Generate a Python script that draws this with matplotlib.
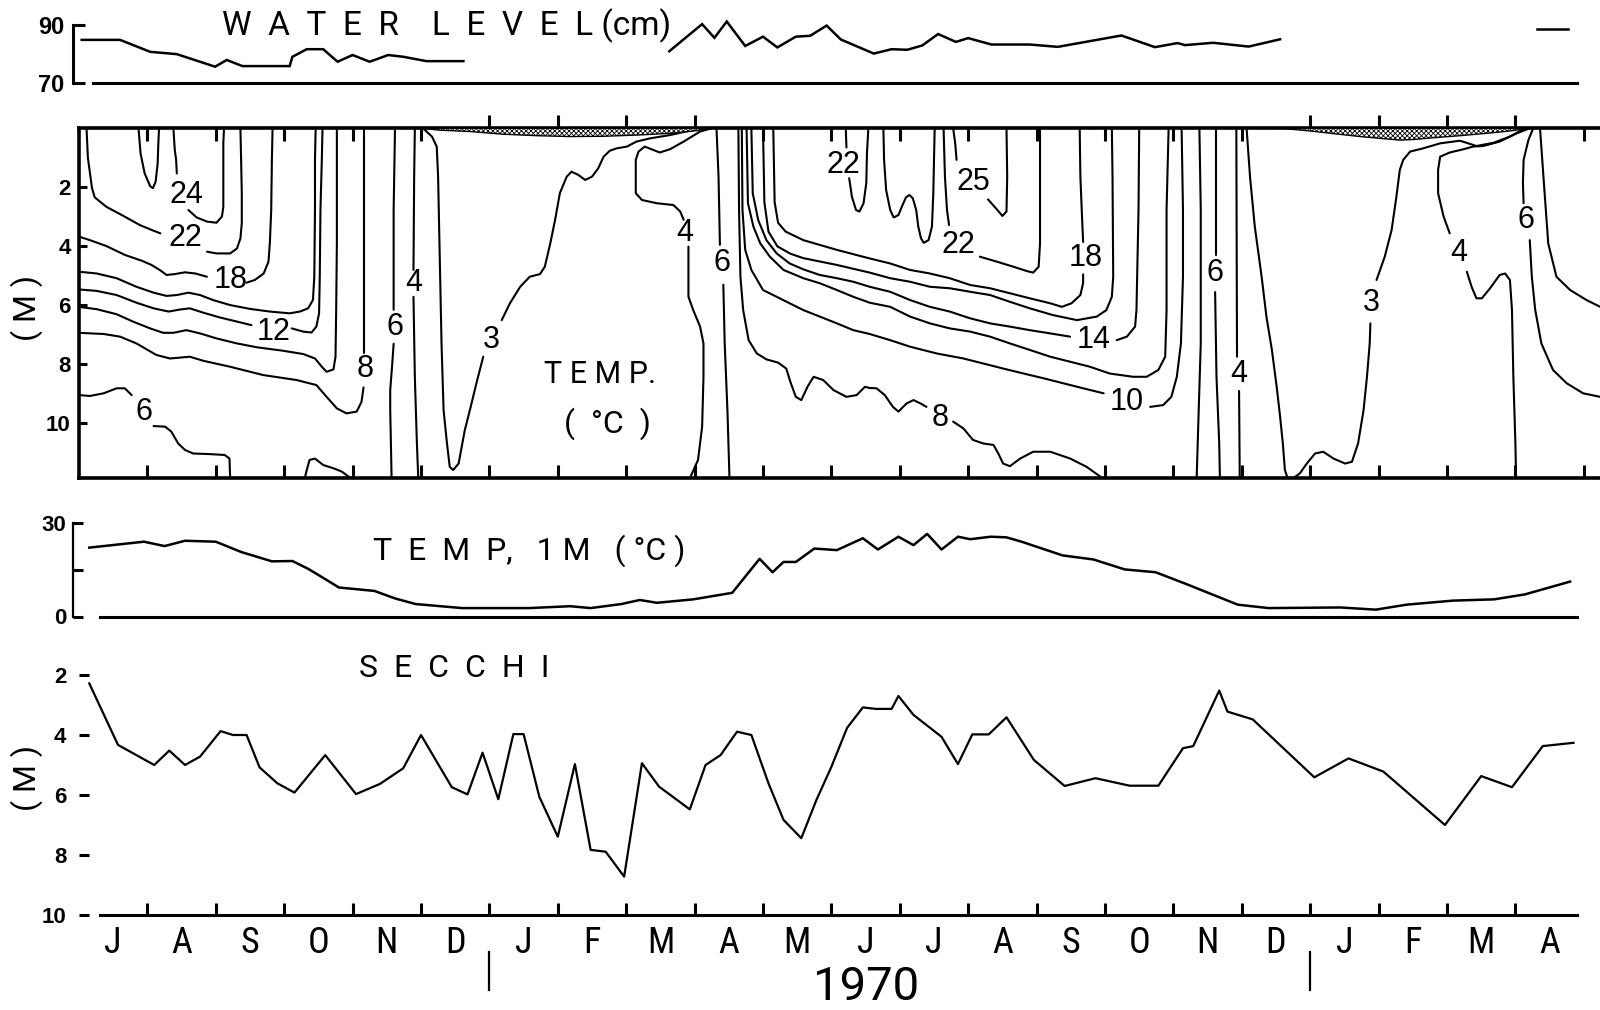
import matplotlib
matplotlib.use("Agg")
import matplotlib.pyplot as plt
from matplotlib import font_manager
from matplotlib.ticker import FixedLocator
from matplotlib.transforms import blended_transform_factory as blend

# ------------------------------------------------------------------
# Time axis: months counted from 1 July 1969
# ------------------------------------------------------------------
month_letters = ["J", "A", "S", "O", "N", "D", "J", "F", "M", "A", "M",
                 "J", "J", "A", "S", "O", "N", "D", "J", "F", "M", "A"]
year_text = "1970"
year_starts = [6, 18]                    # 1 Jan 1970, 1 Jan 1971
ice_months = [6, 7, 8, 9, 18, 19, 20, 21]

# Water level (cm)
wl_a_t = [0.04, 0.60, 1.04, 1.43, 1.99, 2.16, 2.39, 3.08, 3.12, 3.33, 3.57,
          3.78, 4.00, 4.25, 4.52, 4.74, 5.08, 5.62]
wl_a_v = [84.9, 84.9, 80.8, 80.0, 75.7, 78.0, 75.9, 75.9, 79.1, 81.7, 81.7,
          77.4, 79.7, 77.4, 79.7, 79.1, 77.6, 77.6]
wl_b_t = [8.63, 9.11, 9.29, 9.47, 9.74, 10.00, 10.21, 10.48, 10.69, 10.93,
          11.14, 11.62, 11.88, 12.11, 12.33, 12.56, 12.82, 13.00, 13.34, 13.90,
          14.31, 15.24, 15.73, 16.06, 16.17, 16.58, 17.10, 17.56]
wl_b_v = [81.0, 90.3, 85.6, 91.2, 82.8, 86.0, 82.3, 86.0, 86.3, 89.8,
          85.0, 80.2, 81.7, 81.5, 83.0, 86.9, 84.2, 85.5, 83.3, 83.3,
          82.5, 86.4, 82.4, 83.8, 83.1, 83.9, 82.6, 85.1]
wl_c_t = [21.31, 21.77]
wl_c_v = [88.7, 88.7]

# Temperature at 1 m (deg C)
temp_t = [0.15, 0.95, 1.25, 1.55, 2.00, 2.37, 2.82, 3.12, 3.35, 3.57, 3.80,
          4.32, 4.62, 4.92, 5.60, 6.58, 7.18, 7.48, 7.93, 8.20, 8.45, 8.98,
          9.55, 9.95, 10.14, 10.30, 10.48, 10.75, 11.08, 11.46, 11.68, 11.98,
          12.20, 12.40, 12.61, 12.85, 13.03, 13.33, 13.56, 13.78, 14.38, 14.83,
          15.29, 15.74, 16.19, 16.94, 17.39, 18.44, 18.96, 19.41, 20.09, 20.69,
          21.14, 21.80]
temp_v = [22.1, 24.0, 22.6, 24.3, 24.0, 20.7, 17.7, 17.8, 15.3, 12.4, 9.3,
          8.2, 5.8, 4.0, 2.7, 2.7, 3.3, 2.7, 4.0, 5.3, 4.4, 5.5,
          7.6, 18.5, 14.2, 17.5, 17.5, 21.8, 21.3, 25.1, 21.5, 25.6,
          22.9, 26.5, 21.5, 25.6, 24.8, 25.6, 25.4, 24.0, 19.6, 18.3,
          15.1, 14.2, 10.4, 3.8, 2.7, 2.9, 2.2, 3.8, 5.1, 5.5,
          7.1, 11.2]

# Secchi depth (m)
secchi_t = [0.15, 0.57, 1.10, 1.32, 1.55, 1.77, 2.07, 2.25, 2.45, 2.64,
            2.90, 3.15, 3.60, 4.05, 4.40, 4.74, 5.00, 5.45, 5.68, 5.90,
            6.13, 6.35, 6.50, 6.73, 7.00, 7.25, 7.48, 7.70, 7.97, 8.23,
            8.48, 8.93, 9.16, 9.38, 9.62, 9.83, 10.08, 10.30, 10.56, 10.78,
            11.00, 11.23, 11.46, 11.65, 11.88, 11.98, 12.20, 12.61, 12.85, 13.06,
            13.30, 13.56, 13.96, 14.41, 14.86, 15.36, 15.78, 16.14, 16.29, 16.67,
            16.79, 17.16, 18.06, 18.56, 19.07, 19.97, 20.50, 20.95, 21.40, 21.85]
secchi_d = [2.28, 4.33, 5.00, 4.52, 5.00, 4.72, 3.87, 4.00, 4.00, 5.08,
            5.61, 5.92, 4.67, 5.97, 5.63, 5.11, 4.00, 5.74, 5.98, 4.59,
            6.14, 3.97, 3.97, 6.06, 7.39, 4.97, 7.83, 7.89, 8.72, 4.94,
            5.72, 6.48, 5.00, 4.67, 3.89, 4.00, 5.61, 6.83, 7.44, 6.17,
            5.06, 3.76, 3.08, 3.13, 3.13, 2.70, 3.33, 4.06, 4.97, 3.98,
            3.98, 3.41, 4.83, 5.70, 5.44, 5.69, 5.69, 4.44, 4.37, 2.52,
            3.22, 3.48, 5.41, 4.78, 5.22, 7.00, 5.37, 5.74, 4.37, 4.26]

# Ice cover thickness (m)
ice1_t = [5.05, 5.25, 5.72, 6.20, 6.69, 7.18, 7.67, 8.15, 8.64, 9.03, 9.22]
ice1_h = [0.0, 0.06, 0.11, 0.20, 0.25, 0.28, 0.27, 0.23, 0.17, 0.08, 0.0]
ice2_t = [17.51, 17.66, 18.00, 18.34, 18.73, 19.12, 19.31, 19.51, 19.80,
          20.19, 20.58, 20.92, 21.21]
ice2_h = [0.0, 0.02, 0.09, 0.18, 0.28, 0.36, 0.40, 0.38, 0.32, 0.25, 0.17,
          0.09, 0.0]

# Isotherms as (month, depth m); None marks the break left for the label
iso24_pocket_1969 = [(0.87, 0), (0.90, 0.85), (0.96, 1.53), (1.04, 1.96), (1.08, 2.03),
                     (1.12, 1.81), (1.15, 1.19), (1.16, 0.51), (1.17, 0)]
iso24_1969 = [(1.38, 0), (1.40, 0.73), (1.42, 1.07), (1.43, 1.53), None,
              (1.60, 2.77), (1.72, 3.02), (1.87, 3.16), (2.01, 3.20), (2.09, 2.99),
              (2.11, 2.66), (2.11, 1.64), (2.11, 0.51), (2.12, 0)]
iso22_1969 = [(0.11, 0), (0.13, 1.0), (0.19, 2.03), (0.23, 2.34), (0.40, 2.66),
              (0.65, 2.97), (0.89, 3.28), (1.09, 3.47), (1.19, 3.56), None,
              (1.87, 4.18), (2.01, 4.24), (2.21, 4.24), (2.31, 4.07), (2.36, 3.73),
              (2.38, 3.22), (2.38, 2.20), (2.37, 1.07), (2.36, 0)]
iso18_1969 = [(0, 3.67), (0.16, 3.79), (0.40, 3.99), (0.67, 4.29), (0.92, 4.49),
              (1.06, 4.63), (1.18, 4.80), (1.28, 4.97), (1.40, 4.94), (1.55, 4.88),
              (1.70, 4.92), (1.87, 5.03), None,
              (2.45, 5.23), (2.57, 5.14), (2.70, 4.92), (2.77, 4.52), (2.79, 3.90),
              (2.81, 2.77), (2.82, 1.07), (2.83, 0)]
iso16_1969 = [(0, 4.86), (0.26, 4.92), (0.55, 5.08), (0.84, 5.37), (1.09, 5.57),
              (1.28, 5.68), (1.43, 5.65), (1.60, 5.57), (1.77, 5.65), (1.96, 5.82),
              (2.21, 5.99), (2.50, 6.12), (2.79, 6.21), (3.08, 6.27), (3.23, 6.21),
              (3.35, 6.10), (3.42, 5.82), (3.44, 5.03), (3.45, 2.77), (3.45, 1.07),
              (3.46, 0)]
iso12_1969 = [(0, 5.46), (0.26, 5.51), (0.55, 5.65), (0.84, 5.91), (1.09, 6.10),
              (1.31, 6.21), (1.48, 6.14), (1.62, 6.10), (1.82, 6.25), (2.06, 6.41),
              (2.31, 6.55), (2.52, 6.67), None,
              (3.11, 6.78), (3.28, 6.89), (3.40, 6.92), (3.47, 6.72), (3.51, 6.27),
              (3.52, 5.03), (3.53, 2.77), (3.55, 1.07), (3.56, 0)]
iso10_1969 = [(0, 6.05), (0.26, 6.13), (0.55, 6.30), (0.79, 6.55), (1.04, 6.78),
              (1.23, 6.93), (1.38, 6.93), (1.57, 6.84), (1.77, 6.95), (2.01, 7.12),
              (2.31, 7.29), (2.60, 7.42), (2.99, 7.54), (3.28, 7.65), (3.45, 7.80),
              (3.55, 8.08), (3.62, 8.25), (3.72, 8.17), (3.75, 7.74), (3.76, 6.16),
              (3.77, 3.90), (3.77, 1.64), (3.77, 0)]
iso8_1969 = [(0, 6.93), (0.36, 6.97), (0.60, 7.06), (0.84, 7.29), (1.13, 7.68),
             (1.33, 7.80), (1.62, 7.74), (1.82, 7.88), (2.21, 8.08), (2.69, 8.36),
             (3.18, 8.53), (3.47, 8.70), (3.62, 9.10), (3.77, 9.49), (3.91, 9.66),
             (4.06, 9.60), (4.13, 9.27), (4.16, 8.78), None,
             (4.16, 7.60), (4.16, 4.0), (4.16, 0)]
iso6_bottom_1969 = [(0, 9.04), (0.16, 9.07), (0.36, 8.98), (0.55, 8.81), (0.67, 8.81),
                    (0.77, 9.04), None,
                    (1.09, 10.09), (1.26, 10.11), (1.35, 10.28), (1.45, 10.68),
                    (1.55, 10.90), (1.67, 11.02), (1.91, 11.04), (2.13, 11.07),
                    (2.20, 11.19), (2.21, 11.86)]
iso6_bump_1969 = [(3.30, 11.86), (3.33, 11.58), (3.37, 11.24), (3.45, 11.19),
                  (3.57, 11.41), (3.72, 11.52), (3.84, 11.63), (3.94, 11.80),
                  (3.99, 11.86)]
iso6_autumn_1969 = [(4.62, 0), (4.60, 2.77), (4.60, 6.15), None,
                    (4.60, 7.30), (4.58, 7.97), (4.55, 8.87), (4.55, 9.55),
                    (4.56, 10.68), (4.57, 11.86)]
iso4_autumn_1969 = [(4.91, 0), (4.90, 1.64), (4.89, 4.80), None,
                    (4.89, 5.71), (4.91, 8.42), (4.94, 10.68), (4.96, 11.86)]
iso3_winter_1970 = [(5.03, 0), (5.16, 0.28), (5.23, 0.62), (5.25, 1.64), (5.27, 3.90),
                    (5.30, 7.29), (5.33, 9.55), (5.38, 10.68), (5.42, 11.47),
                    (5.47, 11.58), (5.55, 11.36), (5.64, 10.23), (5.72, 9.50),
                    (5.81, 8.64), (5.91, 7.74), None,
                    (6.18, 6.50), (6.30, 5.93), (6.45, 5.37), (6.59, 5.03),
                    (6.74, 4.94), (6.81, 4.69), (6.89, 3.90), (6.96, 3.11),
                    (7.03, 2.20), (7.13, 1.64), (7.20, 1.47), (7.30, 1.58),
                    (7.40, 1.75), (7.50, 1.64), (7.59, 1.36), (7.67, 0.96),
                    (7.76, 0.76), (7.86, 0.68), (8.01, 0.62), (8.15, 0.45),
                    (8.35, 0.34), (8.64, 0.23), (8.93, 0.08), (9.13, 0)]
iso4_spring_1970 = [(9.25, 0), (9.08, 0.11), (8.84, 0.45), (8.64, 0.71), (8.49, 0.82),
                    (8.37, 0.71), (8.27, 0.62), (8.18, 0.79), (8.14, 1.07),
                    (8.14, 2.20), (8.23, 2.43), (8.45, 2.54), (8.69, 2.60),
                    (8.79, 2.82), (8.84, 3.10), None,
                    (8.91, 4.01), (8.91, 5.71), (8.98, 6.16), (9.08, 6.72),
                    (9.13, 7.29), (9.13, 8.42), (9.11, 10.11), (9.05, 11.24),
                    (8.93, 11.86)]
iso6_spring_1970 = [(9.32, 0), (9.35, 1.64), (9.37, 3.95), None,
                    (9.42, 5.30), (9.44, 7.29), (9.48, 9.55), (9.51, 11.86)]
iso8_1970 = [(9.64, 0), (9.65, 2.77), (9.67, 5.03), (9.71, 6.16), (9.79, 7.18),
             (9.91, 7.63), (10.05, 7.83), (10.22, 7.94), (10.34, 8.14), (10.40, 8.59),
             (10.48, 9.10), (10.56, 9.21), (10.65, 8.76), (10.74, 8.42), (10.88, 8.53),
             (11.03, 8.87), (11.22, 9.10), (11.37, 9.04), (11.49, 8.76), (11.56, 8.80),
             (11.66, 8.81), (11.78, 9.04), (11.90, 9.44), (11.98, 9.60), (12.10, 9.32),
             (12.20, 9.21), (12.30, 9.32), (12.39, 9.44), None,
             (12.78, 9.94), (12.93, 10.17), (13.07, 10.56), (13.22, 10.68),
             (13.37, 10.73), (13.44, 11.02), (13.51, 11.36), (13.61, 11.45),
             (13.76, 11.19), (13.95, 10.96), (14.20, 10.96), (14.49, 11.19),
             (14.73, 11.47), (14.93, 11.80), (14.98, 11.86)]
iso8_autumn_1970 = [(16.38, 0), (16.40, 2.77), (16.40, 7.29), (16.37, 9.55), (16.34, 11.86)]
iso10_1970 = [(9.69, 0), (9.70, 2.77), (9.74, 4.12), (9.83, 4.80), (10.00, 5.48),
              (10.20, 5.71), (10.39, 5.93), (10.59, 6.16), (10.83, 6.38), (11.08, 6.61),
              (11.32, 6.84), (11.56, 6.97), (11.86, 7.18), (12.15, 7.40), (12.54, 7.63),
              (12.93, 7.80), (13.22, 7.97), (13.51, 8.14), (13.81, 8.31), (14.10, 8.47),
              (14.39, 8.64), (14.68, 8.81), (14.98, 8.98), None,
              (15.66, 9.44), (15.85, 9.38), (15.97, 9.10), (16.05, 8.42), (16.11, 7.29),
              (16.14, 5.03), (16.14, 2.77), (16.12, 0)]
iso12_1970 = [(9.76, 0), (9.78, 2.54), (9.86, 3.33), (9.96, 3.90), (10.10, 4.35),
              (10.30, 4.80), (10.59, 5.08), (10.83, 5.25), (11.08, 5.48), (11.32, 5.71),
              (11.56, 5.91), (11.86, 6.05), (12.15, 6.38), (12.44, 6.61), (12.73, 6.78),
              (13.03, 6.89), (13.32, 7.06), (13.61, 7.29), (13.90, 7.51), (14.20, 7.74),
              (14.49, 7.91), (14.78, 8.08), (15.07, 8.31), (15.41, 8.42), (15.61, 8.42),
              (15.78, 8.19), (15.88, 7.74), (15.90, 6.16), (15.90, 2.77), (15.93, 0)]
iso14_1970 = [(9.83, 0), (9.85, 2.20), (9.93, 3.11), (10.05, 3.79), (10.20, 4.24),
              (10.39, 4.58), (10.59, 4.78), (10.83, 4.97), (11.08, 5.08), (11.32, 5.20),
              (11.56, 5.37), (11.86, 5.54), (12.15, 5.82), (12.44, 6.05), (12.73, 6.21),
              (13.03, 6.44), (13.32, 6.61), (13.61, 6.72), (13.90, 6.84), (14.20, 6.95),
              (14.49, 7.06), None,
              (15.17, 7.18), (15.32, 7.06), (15.44, 6.72), (15.46, 6.16), (15.49, 2.77),
              (15.50, 0)]
iso16_1970 = [(10.00, 0), (10.02, 2.50), (10.08, 3.50), (10.21, 4.00), (10.40, 4.25),
              (10.59, 4.40), (11.08, 4.63), (11.56, 4.89), (11.86, 5.08), (12.15, 5.20),
              (12.44, 5.37), (12.73, 5.42), (13.03, 5.54), (13.32, 5.65), (13.61, 5.88),
              (13.90, 6.10), (14.24, 6.33), (14.59, 6.50), (14.88, 6.38), (15.02, 6.16),
              (15.10, 5.71), (15.12, 5.03), (15.11, 1.64), (15.10, 0)]
iso18_1970 = [(10.15, 0), (10.17, 2.50), (10.22, 3.20), (10.33, 3.50), (10.59, 3.79),
              (11.08, 4.12), (11.56, 4.41), (11.86, 4.58), (12.15, 4.80), (12.44, 4.92),
              (12.73, 5.08), (13.03, 5.31), (13.32, 5.42), (13.61, 5.59), (13.90, 5.76),
              (14.20, 5.93), (14.37, 6.05), (14.51, 5.93), (14.64, 5.65), (14.68, 5.25),
              (14.68, 4.95), None,
              (14.68, 3.85), (14.66, 2.77), (14.64, 1.64), (14.63, 0)]
iso22_v_1970 = [(11.21, 0), (11.22, 0.65), None,
                (11.26, 1.69), (11.30, 2.32), (11.36, 2.77), (11.41, 2.82),
                (11.47, 2.54), (11.51, 1.86), (11.52, 0.85), (11.54, 0)]
iso22_w_1970 = [(11.76, 0), (11.77, 1.07), (11.80, 2.09), (11.86, 2.77), (11.91, 3.02),
                (11.98, 2.94), (12.04, 2.60), (12.09, 2.34), (12.14, 2.26), (12.19, 2.37),
                (12.24, 2.77), (12.27, 3.33), (12.31, 3.73), (12.35, 3.88), (12.42, 3.79),
                (12.47, 3.33), (12.49, 2.20), (12.50, 1.07), (12.51, 0)]
iso22_1970 = [(12.64, 0), (12.66, 1.64), (12.69, 2.77), (12.72, 3.28), None,
              (13.17, 4.35), (13.42, 4.52), (13.66, 4.69), (13.86, 4.84), (13.95, 4.89),
              (14.03, 4.69), (14.05, 3.90), (14.05, 1.64), (14.05, 0)]
iso25_1970 = [(12.78, 0), (12.81, 0.51), (12.83, 1.07), None,
              (13.29, 2.41), (13.42, 2.75), (13.50, 2.97), (13.56, 2.82), (13.57, 1.64),
              (13.56, 0)]
iso6_autumn_1970 = [(16.63, 0), (16.63, 4.30), None,
                    (16.61, 5.55), (16.63, 8.42), (16.67, 10.68), (16.68, 11.86)]
iso4_autumn_1970 = [(16.92, 0), (16.93, 7.74), None, (16.96, 8.90), (16.97, 11.86)]
iso3_winter_1971 = [(17.07, 0), (17.12, 1.64), (17.19, 3.33), (17.29, 5.03), (17.36, 6.38),
                    (17.44, 7.51), (17.51, 8.76), (17.56, 9.77), (17.60, 10.68),
                    (17.63, 11.58), (17.67, 11.86), (17.75, 11.86), (17.85, 11.69),
                    (17.95, 11.36), (18.07, 11.02), (18.19, 10.96), (18.34, 11.19),
                    (18.51, 11.36), (18.61, 11.30), (18.70, 10.68), (18.78, 9.55),
                    (18.83, 8.42), (18.87, 7.29), (18.88, 6.61), None,
                    (18.97, 5.14), (19.09, 4.35), (19.19, 3.45), (19.26, 2.32),
                    (19.31, 1.41), (19.36, 1.07), (19.46, 0.79), (19.65, 0.68),
                    (19.90, 0.51), (20.19, 0.42), (20.43, 0.60), (20.68, 0.49),
                    (20.92, 0.28), (21.14, 0)]
iso4_spring_1971 = [(21.21, 0), (21.02, 0.17), (20.77, 0.45), (20.53, 0.60), (20.38, 0.62),
                    (20.24, 0.71), (20.04, 0.82), (19.90, 0.96), (19.87, 1.41),
                    (19.87, 2.20), (19.95, 2.99), (20.04, 3.56), None,
                    (20.29, 4.86), (20.36, 5.37), (20.43, 5.76), (20.51, 5.76),
                    (20.63, 5.42), (20.77, 4.97), (20.85, 4.92), (20.92, 5.14),
                    (20.95, 6.16), (20.97, 8.42), (21.00, 10.68), (21.01, 11.86)]
iso6_spring_1971 = [(21.26, 0), (21.19, 0.40), (21.12, 1.07), (21.11, 1.86), (21.12, 2.54),
                    None,
                    (21.21, 3.79), (21.24, 5.03), (21.29, 6.16), (21.38, 7.29),
                    (21.55, 8.19), (21.75, 8.64), (21.99, 8.98), (22.24, 9.10)]
iso8_spring_1971 = [(21.36, 0), (21.41, 1.64), (21.48, 3.90), (21.60, 5.03), (21.80, 5.48),
                    (22.04, 5.82), (22.24, 6.05)]

# (temperature, label position or None, line)
isotherms = [
    (24, None, iso24_pocket_1969), (24, (1.57, 2.26), iso24_1969),
    (22, (1.55, 3.71), iso22_1969), (18, (2.21, 5.14), iso18_1969),
    (16, None, iso16_1969), (12, (2.84, 6.89), iso12_1969),
    (10, None, iso10_1969), (8, (4.18, 8.14), iso8_1969),
    (6, (0.95, 9.60), iso6_bottom_1969), (6, None, iso6_bump_1969),
    (6, (4.62, 6.72), iso6_autumn_1969), (4, (4.89, 5.25), iso4_autumn_1969),
    (3, (6.03, 7.18), iso3_winter_1970), (4, (8.86, 3.56), iso4_spring_1970),
    (6, (9.40, 4.58), iso6_spring_1970), (8, (12.59, 9.83), iso8_1970),
    (8, None, iso8_autumn_1970), (10, (15.32, 9.27), iso10_1970),
    (12, None, iso12_1970), (14, (14.83, 7.18), iso14_1970),
    (16, None, iso16_1970), (18, (14.72, 4.41), iso18_1970),
    (22, (11.17, 1.24), iso22_v_1970), (22, None, iso22_w_1970),
    (22, (12.86, 3.95), iso22_1970), (25, (13.07, 1.81), iso25_1970),
    (6, (16.61, 4.92), iso6_autumn_1970), (4, (16.95, 8.31), iso4_autumn_1970),
    (3, (18.90, 5.93), iso3_winter_1971), (4, (20.17, 4.24), iso4_spring_1971),
    (6, (21.16, 3.11), iso6_spring_1971), (8, None, iso8_spring_1971),
]


# ------------------------------------------------------------------
# Fonts
# ------------------------------------------------------------------
def pick(*names):
    have = {f.name for f in font_manager.fontManager.ttflist}
    for n in names:
        if n in have:
            return n
    return "DejaVu Sans"


THIN = pick("Roboto Condensed", "Liberation Sans Narrow", "Open Sans", "Liberation Sans")
WIDE = pick("Roboto", "Lato", "Open Sans", "Liberation Sans")
NUM = pick("Liberation Sans", "Arimo", "DejaVu Sans")
ISO = pick("Liberation Sans", "Arimo", "DejaVu Sans")

# ------------------------------------------------------------------
# Layout (pixel rows of the 1600 x 1010 canvas)
# ------------------------------------------------------------------
W, H = 1600, 1010
fig = plt.figure(figsize=(W / 100, H / 100), dpi=100)
fig.patch.set_facecolor("white")
plt.rcParams["hatch.linewidth"] = 0.6
X0 = 79 / W
XMAX = (W - 79) / 68.4


def panel(top_px, bottom_px):
    ax = fig.add_axes([X0, 1 - bottom_px / H, 1 - X0, (bottom_px - top_px) / H])
    ax.set_xlim(0, XMAX)
    ax.patch.set_visible(False)
    ax.set_xticks([])
    return ax


ax_wl = panel(25, 83.3)
ax_iso = panel(128.3, 478.3)
ax_t = panel(523, 616.5)
ax_s = panel(675, 915)

LW_DATA = 1.8
LW_AXIS = 2.2
TXT = dict(family=WIDE, fontweight="normal", color="black")


def y_ticks(ax, ticks, labels, left_len, pad, size=16):
    ax.yaxis.set_major_locator(FixedLocator(ticks))
    ax.set_yticklabels(labels)
    ax.yaxis.set_minor_locator(FixedLocator(ticks))
    ax.tick_params(axis="y", which="major", direction="in", left=True, right=False,
                   length=left_len, width=LW_AXIS, pad=pad, labelsize=size,
                   labelfontfamily=NUM)
    ax.tick_params(axis="y", which="minor", direction="in", left=False, right=True,
                   length=9.4, width=LW_AXIS)
    for lab in ax.get_yticklabels():
        lab.set_fontweight("bold")


# ---------------- water level ----------------
ax_wl.set_ylim(70, 90)
for s in ("top", "right"):
    ax_wl.spines[s].set_visible(False)
ax_wl.spines["left"].set_position(("outward", 4.3))
ax_wl.spines["left"].set_linewidth(LW_AXIS)
ax_wl.spines["bottom"].set_bounds(0.2, 21.9)
ax_wl.spines["bottom"].set_linewidth(LW_AXIS)
y_ticks(ax_wl, [70, 90], ["70", "90"], 8.6, 6, size=17)
for t, v in ((wl_a_t, wl_a_v), (wl_b_t, wl_b_v), (wl_c_t, wl_c_v)):
    ax_wl.plot(t, v, color="black", lw=LW_DATA, clip_on=False, solid_joinstyle="miter")
fig.text(0.279, 0.975, "W  A  T  E  R    L  E  V  E  L (cm)", ha="center",
         va="center", fontsize=24, **TXT)

# ---------------- isotherm section ----------------
ax_iso.set_ylim(11.86, 0)
ax_iso.spines["right"].set_visible(False)
for s in ("top", "bottom", "left"):
    ax_iso.spines[s].set_linewidth(2.6)
y_ticks(ax_iso, [2, 4, 6, 8, 10], ["2", "4", "6", "8", "10"], 6, 6)

for t, h in ((ice1_t, ice1_h), (ice2_t, ice2_h)):
    ax_iso.fill_between(t, 0, h, facecolor="white", edgecolor="black",
                        hatch="xxxxxxx", linewidth=1.0, zorder=3)

for temp, lab, pts in isotherms:
    seg = []
    for p in pts + [None]:
        if p is None:
            if seg:
                xs, ys = zip(*seg)
                ax_iso.plot(xs, ys, color="black", lw=1.5, solid_joinstyle="round",
                            solid_capstyle="round")
            seg = []
        else:
            seg.append(p)
    if lab is not None:
        ax_iso.text(lab[0], lab[1], f"{temp}", ha="center", va="center",
                    fontsize=22, family=ISO, color="black")

ax_iso.text(7.62, 8.33, "T E M P.", ha="center", va="center", fontsize=22, **TXT)
ax_iso.text(7.72, 10.0, "(  °C  )", ha="center", va="center", fontsize=23, **TXT)

tr_iso = blend(ax_iso.transData, ax_iso.transAxes)
tl = 13 / 350
for m in range(1, 23):
    top_end = 1 + tl if m in ice_months else 1 - tl
    ax_iso.plot([m, m], [1, top_end], transform=tr_iso, color="black", lw=LW_AXIS,
                clip_on=False, solid_capstyle="butt")
    ax_iso.plot([m, m], [0, tl], transform=tr_iso, color="black", lw=LW_AXIS,
                clip_on=False, solid_capstyle="butt")

fig.text(27 / W, 1 - 308 / H, "( M )", rotation=90, ha="center", va="center",
         fontsize=23, **TXT)

# ---------------- 1 m temperature ----------------
ax_t.set_ylim(0, 30)
for s in ("top", "right"):
    ax_t.spines[s].set_visible(False)
ax_t.spines["left"].set_position(("outward", 4))
ax_t.spines["left"].set_linewidth(1.6)
ax_t.spines["bottom"].set_bounds(0.3, 21.9)
ax_t.spines["bottom"].set_linewidth(LW_AXIS)
y_ticks(ax_t, [0, 15, 30], ["0", "", "30"], 7, 5)
ax_t.plot(temp_t, temp_v, color="black", lw=LW_DATA, clip_on=False)
ax_t.text(6.58, 21.0, "T  E  M  P,   1 M   ( °C )", ha="center", va="center",
          fontsize=23, **TXT)

# ---------------- Secchi depth ----------------
ax_s.set_ylim(10, 2)
for s in ("top", "right", "left"):
    ax_s.spines[s].set_visible(False)
ax_s.spines["bottom"].set_bounds(0.3, 21.9)
ax_s.spines["bottom"].set_linewidth(LW_AXIS)
y_ticks(ax_s, [2, 4, 6, 8, 10], ["2", "4", "6", "8", "10"], 7, 9)
ax_s.set_xticks(range(1, 22))
ax_s.tick_params(axis="x", direction="in", length=8.6, width=LW_AXIS, labelbottom=False)
ax_s.plot(secchi_t, secchi_d, color="black", lw=1.6, clip_on=False)
ax_s.text(5.48, 1.78, "S  E  C  C  H  I", ha="center", va="center", fontsize=23, **TXT)
fig.text(27 / W, 1 - 778 / H, "( M )", rotation=90, ha="center", va="center",
         fontsize=23, **TXT)

# month letters, year and year boundaries under the bottom panel
tr_fig = blend(ax_s.transData, fig.transFigure)
for i, letter in enumerate(month_letters):
    ax_s.text(i + 0.5, 1 - 943 / H, letter, transform=tr_fig, ha="center", va="center",
              fontsize=26, family=THIN, fontweight="normal")
ax_s.text(11.5, 1 - 987 / H, year_text, transform=tr_fig, ha="center", va="center",
          fontsize=34, **TXT)
for m in year_starts:
    ax_s.plot([m, m], [1 - 952 / H, 1 - 990 / H], transform=tr_fig, color="black",
              lw=1.6, clip_on=False)

fig.savefig("out.png", dpi=100, facecolor="white")
